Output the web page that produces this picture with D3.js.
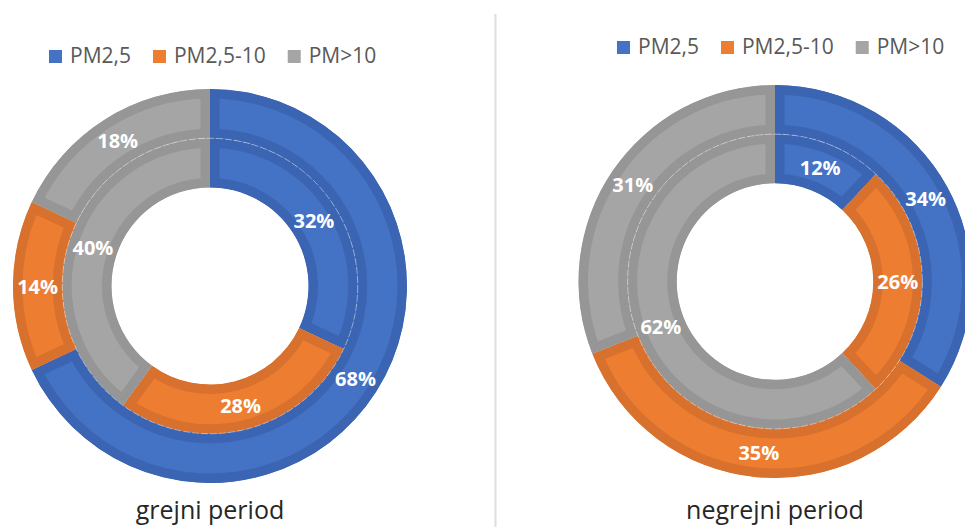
<!DOCTYPE html>
<html>
<head>
<meta charset="utf-8">
<script src="https://cdn.jsdelivr.net/npm/d3@7"></script>
<style>
  html, body { margin: 0; padding: 0; background: #fff; }
  svg { display: block; }
</style>
</head>
<body>
<svg id="chart" width="965" height="527"></svg>
<script>
// Particle size fractions
const categories = ["PM2,5", "PM2,5-10", "PM>10"];

// Shares in percent, heating season (inner and outer ring)
const heatingInner = [32, 28, 40];
const heatingOuter = [68, 14, 18];

// Shares in percent, non-heating season
const nonHeatingInner = [12, 26, 62];
const nonHeatingOuter = [34, 35, 31];

const panelTitles = ["grejni period", "negrejni period"];

// Fill and border colours per fraction
const fillColors   = ["#4472C4", "#ED7D31", "#A5A5A5"];
const borderColors = ["#3B65B2", "#D8712D", "#969696"];

const svg = d3.select("#chart");
const FONT = "'Open Sans', 'Noto Sans', sans-serif";

// Separator between the two panels
svg.append("line")
  .attr("x1", 495.5).attr("x2", 495.5)
  .attr("y1", 14).attr("y2", 527)
  .attr("stroke", "#dedede").attr("stroke-width", 2);

const panels = [
  { cx: 210, cy: 286, R: 197, inner: heatingInner, outer: heatingOuter,
    title: panelTitles[0], legendX: 49, legendY: 63 },
  { cx: 775, cy: 281.5, R: 196.5, inner: nonHeatingInner, outer: nonHeatingOuter,
    title: panelTitles[1], legendX: 617, legendY: 54 }
];

const pie = d3.pie().sort(null).value(d => d).startAngle(0).endAngle(2 * Math.PI);
const border = 9.5;
let clipId = 0;

panels.forEach((p, pi) => {
  const g = svg.append("g").attr("transform", `translate(${p.cx},${p.cy})`);
  const hole = p.R * 0.5;
  const mid = (p.R + hole) / 2;

  // ring definitions: inner ring first, outer ring around it
  const rings = [
    { values: p.inner, r0: hole, r1: mid },
    { values: p.outer, r0: mid, r1: p.R }
  ];

  rings.forEach(ring => {
    const arc = d3.arc().innerRadius(ring.r0).outerRadius(ring.r1);
    pie(ring.values).forEach((a, i) => {
      const id = `seg-${pi}-${clipId++}`;
      g.append("clipPath").attr("id", id)
        .append("path").attr("d", arc(a));
      g.append("path")
        .attr("d", arc(a))
        .attr("fill", fillColors[i])
        .attr("stroke", borderColors[i])
        .attr("stroke-width", border * 2)
        .attr("stroke-linejoin", "miter")
        .attr("clip-path", `url(#${id})`);
    });
  });

  // faint seam between the two rings
  g.append("circle")
    .attr("r", mid)
    .attr("fill", "none")
    .attr("stroke", "#ffffff")
    .attr("stroke-opacity", 0.4)
    .attr("stroke-width", 1)
    .attr("stroke-dasharray", "7,2");

  // value labels at the centre of each segment
  rings.forEach(ring => {
    const arc = d3.arc().innerRadius(ring.r0).outerRadius(ring.r1);
    pie(ring.values).forEach(a => {
      const [x, y] = arc.centroid(a);
      g.append("text")
        .attr("x", x).attr("y", y)
        .attr("text-anchor", "middle")
        .attr("dominant-baseline", "central")
        .attr("font-family", FONT)
        .attr("font-weight", 700)
        .attr("font-size", 20)
        .attr("fill", "#ffffff")
        .text(`${a.data}%`);
    });
  });

  // panel title
  svg.append("text")
    .attr("x", p.cx).attr("y", 519)
    .attr("text-anchor", "middle")
    .attr("font-family", FONT)
    .attr("font-size", 25)
    .attr("fill", "#262626")
    .text(p.title);

  // legend
  const lg = svg.append("g");
  let x = p.legendX;
  categories.forEach((c, i) => {
    lg.append("rect")
      .attr("x", x).attr("y", p.legendY - 13)
      .attr("width", 13).attr("height", 13)
      .attr("fill", fillColors[i]);
    const t = lg.append("text")
      .attr("x", x + 21).attr("y", p.legendY)
      .attr("font-family", FONT)
      .attr("font-size", 21)
      .attr("fill", "#595959")
      .text(c);
    x += 21 + t.node().getComputedTextLength() + 22;
  });
});
</script>
</body>
</html>
